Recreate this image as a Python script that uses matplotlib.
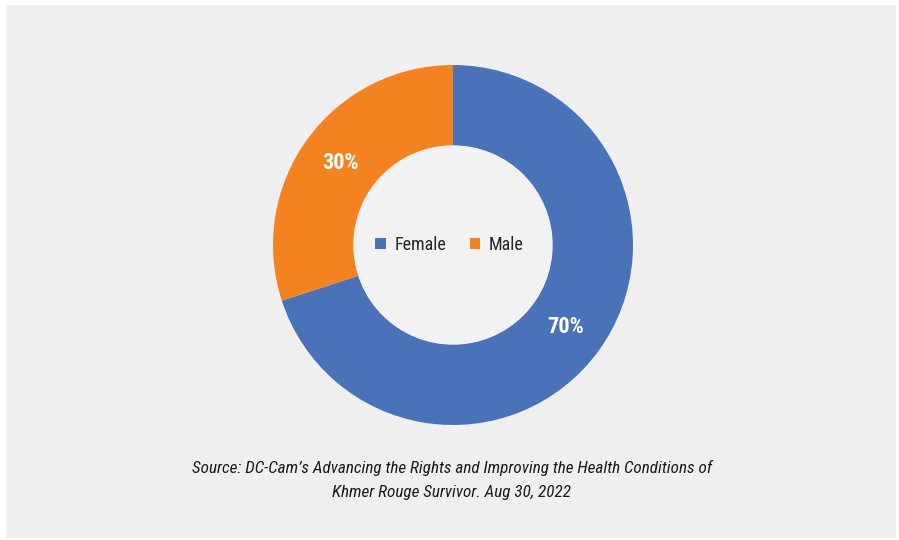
import matplotlib
matplotlib.use("Agg")
import matplotlib.pyplot as plt
from matplotlib.patches import Rectangle, Patch

categories = ["Female", "Male"]
values = [70, 30]
colors = ["#4a72b8", "#f58220"]
source_lines = ["Source: DC-Cam\u2019s Advancing the Rights and Improving the Health Conditions of",
                "Khmer Rouge Survivor. Aug 30, 2022"]

plt.rcParams['font.family'] = ['Roboto Condensed', 'DejaVu Sans']

W, H = 899, 540
fig = plt.figure(figsize=(W / 100, H / 100), dpi=100)
fig.patch.set_facecolor("white")
fig.patches.append(Rectangle((6 / W, 2 / H), (W - 9) / W, (H - 7) / H,
                             transform=fig.transFigure, facecolor="#efefef",
                             edgecolor="none", zorder=-10))

cx, cy, r = 453, 245, 180
ax = fig.add_axes([(cx - r) / W, 1 - (cy + r) / H, 2 * r / W, 2 * r / H])
ax.set_facecolor("none")
wedges, texts, autotexts = ax.pie(
    values, colors=colors, startangle=90, counterclock=False,
    radius=1, autopct=lambda p: f"{p:.0f}%", pctdistance=0.775,
    wedgeprops=dict(width=0.45, edgecolor="none"),
    textprops=dict(color="white", fontsize=16, fontweight="bold"))
ax.add_patch(plt.Circle((0, 0), 0.55, color="#f2f2f2", zorder=3))
ax.set_xlim(-1, 1)
ax.set_ylim(-1, 1)
ax.set_aspect("equal")
ax.axis("off")

handles = [Patch(facecolor=c, edgecolor="none") for c in colors]
ax.legend(handles, categories, loc="center", bbox_to_anchor=(-0.02, 0.0),
          bbox_transform=ax.transData, ncol=2, frameon=False,
          fontsize=13, handlelength=0.6, handleheight=0.6, handletextpad=0.45,
          columnspacing=1.3, labelcolor="#262626")

fig.text(452 / W, 1 - 468 / H, source_lines[0], ha="center", va="center",
         fontsize=12.3, style="italic", color="#1a1a1a")
fig.text(452 / W, 1 - 492 / H, source_lines[1], ha="center", va="center",
         fontsize=12.3, style="italic", color="#1a1a1a")

fig.savefig("out.png", dpi=100)
